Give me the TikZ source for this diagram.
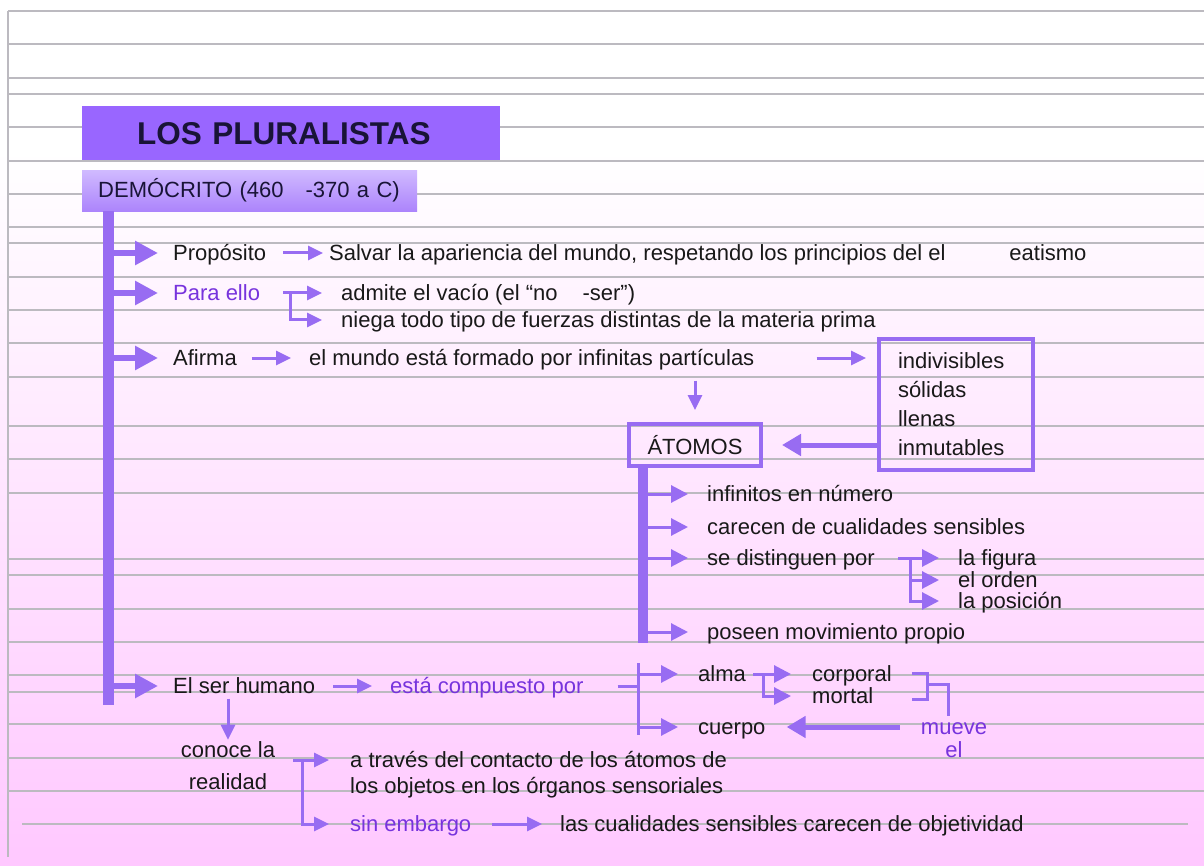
\documentclass[tikz,border=0pt]{standalone}
\usepackage{fontspec}
\setmainfont{Liberation Sans}
\usetikzlibrary{arrows.meta, positioning, calc}
\definecolor{arrowviolet}{RGB}{152,108,242}
\definecolor{titleviolet}{RGB}{153,102,255}
\definecolor{textviolet}{RGB}{119,51,221}
\definecolor{rulegray}{RGB}{188,186,192}
\definecolor{bgpink}{RGB}{255,200,255}
\definecolor{titleink}{RGB}{25,20,55}
\definecolor{demotop}{RGB}{208,186,255}
\definecolor{demobot}{RGB}{172,132,252}

\begin{document}
\begin{tikzpicture}[
    x=1pt, y=-1pt,
    every node/.style={font=\fontsize{22}{24}\selectfont, text=black!90, inner sep=0pt},
    item/.style={anchor=west, text height=20pt, text depth=5pt},
    hint/.style={item, text=textviolet},
    bar/.style={fill=arrowviolet, minimum width=11pt, anchor=north west},
    framebox/.style={draw=arrowviolet, line width=4pt},
    titlebox/.style={anchor=north west, fill=titleviolet, minimum width=418pt, minimum height=54pt,
        inner xsep=55pt, text width=308pt, align=left, text=titleink,
        font=\bfseries\fontsize{31.5}{34}\selectfont},
    demobox/.style={anchor=north west, top color=demotop, bottom color=demobot, minimum width=335pt,
        minimum height=41pt, inner xsep=16pt, text width=303pt, align=left, text=titleink},
    rule/.style={rulegray, line width=1.2pt},
    fatarrow/.style={arrowviolet, line width=6pt, -{Triangle[length=23pt,width=23pt]}},
    bigarrow/.style={arrowviolet, line width=5pt, -{Triangle[length=19pt,width=21pt]}},
    midarrow/.style={arrowviolet, line width=3pt, -{Triangle[length=17pt,width=17pt]}},
    tarrow/.style={arrowviolet, line width=3pt, -{Triangle[length=15pt,width=14pt]}},
    bline/.style={arrowviolet, line width=3pt}
]
    \useasboundingbox (0,0) rectangle (1204,866);

    % ruled paper
    \fill[white] (0,0) rectangle (1204,866);
    \fill[top color=white, bottom color=bgpink] (0,150) rectangle (1204,866);
    \foreach \y in {11,44,78,94,127,161,194,227,243,277,310,343,377,426,459,493,559,575,609,642,675,692,724,758,791}
        \draw[rule] (8,\y) -- (1204,\y);
    \draw[rule] (22,824) -- (1188,824);
    \draw[rule] (8,11) -- (8,857);

    % headings
    \node[titlebox] (title) at (82,106) {LOS PLURALISTAS};
    \node[demobox] (demo) at (82,170) {DEMÓCRITO (460\hspace{22pt}-370 a C)};
    \node[bar, minimum height=494pt] (spine) at (103,211) {};

    % first level
    \node[item] (prop) at (173,253) {Propósito};
    \node[item] (salvar) at (329,253) {Salvar la apariencia del mundo, respetando los principios del el\hspace{64pt}eatismo};
    \node[hint] (paraello) at (173,293) {Para ello};
    \node[item] (admite) at (341,293) {admite el vacío (el “no\hspace{25pt}-ser”)};
    \node[item] (niega) at (341,320) {niega todo tipo de fuerzas distintas de la materia prima};
    \node[item] (afirma) at (173,358) {Afirma};
    \node[item] (mundo) at (309,358) {el mundo está formado por infinitas partículas};
    \node[item] (humano) at (173,686) {El ser humano};
    \node[hint] (compuesto) at (390,686) {está compuesto por};

    \foreach \n in {prop, paraello, afirma, humano}
        \draw[fatarrow, shorten >=15pt] (spine.east |- \n.west) -- (\n.west);

    \draw[tarrow, shorten <=17pt, shorten >=6pt] (prop) -- (salvar);
    \coordinate (j1) at (290,293);
    \draw[tarrow, shorten <=23pt, shorten >=19pt] (paraello) -- (admite);
    \draw[tarrow, shorten >=19pt] (j1) |- (niega.west);
    \draw[tarrow, shorten <=15pt, shorten >=18pt] (afirma) -- (mundo);

    % atoms
    \node[framebox, minimum width=154pt, minimum height=131pt, align=left, text width=116pt,
        font=\fontsize{22}{29}\selectfont] (props) at (956,404.5) {indivisibles\\sólidas\\llenas\\inmutables};
    \node[framebox, minimum width=132pt, minimum height=42pt] (atomos) at (695,445) {ÁTOMOS};
    \node[bar, minimum width=10pt, minimum height=175pt] (atspine) at (638,468) {};

    \draw[tarrow, shorten <=62pt, shorten >=11pt] (mundo.east) -- (mundo.east -| props.west);
    \draw[tarrow, shorten <=10pt, shorten >=12pt] (mundo.south -| atomos.north) -- (atomos.north);
    \draw[bigarrow, shorten >=19pt] (props.west |- atomos) -- (atomos.east);

    \node[item] (infin) at (707,494) {infinitos en número};
    \node[item] (carecen) at (707,527) {carecen de cualidades sensibles};
    \node[item] (distinguen) at (707,558) {se distinguen por};
    \node[item] (posee) at (707,632) {poseen movimiento propio};
    \node[item] (figura) at (958,558) {la figura};
    \node[item] (orden) at (958,580) {el orden};
    \node[item] (posicion) at (958,601) {la posición};

    \foreach \n in {infin, carecen, distinguen, posee}
        \draw[midarrow, shorten >=19pt] (atspine.east |- \n.west) -- (\n.west);
    \coordinate (j2) at (910,558);
    \draw[midarrow, shorten <=23pt, shorten >=19pt] (distinguen) -- (figura);
    \draw[midarrow, shorten >=19pt] (j2) |- (orden.west);
    \draw[midarrow, shorten >=19pt] (j2) |- (posicion.west);

    % human being
    \node[item] (alma) at (698,674) {alma};
    \node[item] (cuerpo) at (698,727) {cuerpo};
    \node[item] (corporal) at (812,674) {corporal};
    \node[item] (mortal) at (812,696) {mortal};
    \node[text=textviolet, align=center, font=\fontsize{22}{23}\selectfont] (mueve) at (954,740) {mueve\\el};

    \coordinate (j3) at (638,686);
    \coordinate (j3top) at (638,663);
    \coordinate (j3bot) at (638,735);
    \draw[tarrow, shorten <=18pt, shorten >=18pt] (humano) -- (compuesto);
    \draw[bline, shorten <=34pt] (compuesto.east) -- (j3);
    \draw[bline] (j3top) -- (j3bot);
    \draw[midarrow, shorten >=20pt] (j3 |- alma) -- (alma.west);
    \draw[midarrow, shorten >=20pt] (j3 |- cuerpo) -- (cuerpo.west);

    \coordinate (j4) at (763,674);
    \draw[midarrow, shorten <=7pt, shorten >=21pt] (alma) -- (corporal);
    \draw[midarrow, shorten >=21pt] (j4) |- (mortal.west);

    \coordinate (rb1) at (912,673);
    \coordinate (rb2) at (912,699);
    \coordinate (rbm) at (927,684);
    \coordinate (rbd) at (948,716);
    \draw[bline] (rb1) -| (rbm |- rb2) -- (rb2);
    \draw[bline] (rbm) -| (rbd);
    \draw[bigarrow, shorten <=21pt, shorten >=21pt] (mueve.west |- cuerpo) -- (cuerpo.east);

    % knowledge
    \node[align=center, font=\fontsize{22}{32}\selectfont] (conoce) at (228,766) {conoce la\\realidad};
    \node[anchor=west, align=left, font=\fontsize{22}{26}\selectfont] (atraves) at (350,775)
        {a través del contacto de los átomos de\\los objetos en los órganos sensoriales};
    \node[hint] (sinemb) at (350,824) {sin embargo};
    \node[item] (cualid) at (560,824) {las cualidades sensibles carecen de objetividad};

    \draw[tarrow, shorten >=2pt] (conoce.north |- humano.south) -- (conoce.north);
    \coordinate (j6) at (302,760);
    \draw[tarrow, shorten <=18pt, shorten >=21pt] (conoce.east |- j6) -- (j6 -| atraves.west);
    \draw[tarrow, shorten >=21pt] (j6) |- (sinemb.west);
    \draw[tarrow, shorten <=21pt, shorten >=18pt] (sinemb) -- (cualid);

\end{tikzpicture}
\end{document}
